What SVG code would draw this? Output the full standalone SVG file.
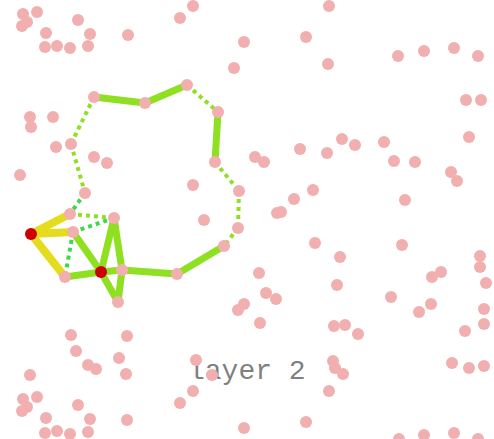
<svg xmlns="http://www.w3.org/2000/svg" width="494" height="439" viewBox="0 0 494 439">
<style>
.p{fill:#f1afaf}
.r{fill:#cc0000}
.s{stroke:#8fe021;stroke-width:7;fill:none;stroke-linecap:butt}
.d{stroke:#8fe021;stroke-width:4;fill:none;stroke-dasharray:4 4}
.g{stroke:#3fd84a;stroke-width:4;fill:none;stroke-dasharray:4 4}
.y{stroke:#e4dc1c;stroke-width:8;fill:none}
.t{font-family:"Liberation Mono","DejaVu Sans Mono",monospace;font-size:28px;fill:#808080}
</style>
<rect width="494" height="439" fill="#ffffff"/>
<text class="t" x="188" y="379">layer 2</text>
<g id="connectors">
<line class="d" x1="94" y1="97" x2="71" y2="144"/>
<line class="d" x1="71" y1="144" x2="85" y2="193"/>
<line class="d" x1="187" y1="85" x2="218" y2="112"/>
<line class="d" x1="215" y1="162" x2="239" y2="191"/>
<line class="d" x1="239" y1="191" x2="238" y2="228"/>
<line class="d" x1="238" y1="228" x2="224" y2="246"/>
<line class="g" x1="85" y1="193" x2="70" y2="214"/>
<line class="d" x1="70" y1="214" x2="114" y2="218"/>
<line class="g" x1="73" y1="232" x2="114" y2="218"/>
<line class="g" x1="73" y1="232" x2="65" y2="277"/>
<line class="s" x1="94" y1="97" x2="145" y2="103"/>
<line class="s" x1="145" y1="103" x2="187" y2="85"/>
<line class="s" x1="218" y1="112" x2="215" y2="162"/>
<line class="s" x1="224" y1="246" x2="177" y2="274"/>
<line class="s" x1="177" y1="274" x2="122" y2="270"/>
<line class="s" x1="122" y1="270" x2="101" y2="272"/>
<line class="s" x1="101" y1="272" x2="65" y2="277"/>
<line class="s" x1="73" y1="232" x2="101" y2="272"/>
<line class="s" x1="114" y1="218" x2="101" y2="272"/>
<line class="s" x1="114" y1="218" x2="122" y2="270"/>
<line class="s" x1="101" y1="272" x2="118" y2="302"/>
<line class="s" x1="122" y1="270" x2="118" y2="302"/>
<line class="y" x1="31" y1="234" x2="70" y2="214"/>
<line class="y" x1="31" y1="234" x2="73" y2="232"/>
<line class="y" x1="31" y1="234" x2="65" y2="277"/>
</g>
<g id="n1"><circle class="p" cx="23" cy="14" r="6"/></g>
<g id="n2"><circle class="p" cx="37" cy="12" r="6"/></g>
<g id="n3"><circle class="p" cx="27" cy="22" r="6"/></g>
<g id="n4"><circle class="p" cx="22" cy="26" r="6"/></g>
<g id="n5"><circle class="p" cx="46" cy="33" r="6"/></g>
<g id="n6"><circle class="p" cx="78" cy="20" r="6"/></g>
<g id="n7"><circle class="p" cx="90" cy="34" r="6"/></g>
<g id="n8"><circle class="p" cx="45" cy="47" r="6"/></g>
<g id="n9"><circle class="p" cx="57" cy="46" r="6"/></g>
<g id="n10"><circle class="p" cx="70" cy="48" r="6"/></g>
<g id="n11"><circle class="p" cx="88" cy="46" r="6"/></g>
<g id="n12"><circle class="p" cx="128" cy="35" r="6"/></g>
<g id="n13"><circle class="p" cx="180" cy="18" r="6"/></g>
<g id="n14"><circle class="p" cx="193" cy="6" r="6"/></g>
<g id="n15"><circle class="p" cx="244" cy="42" r="6"/></g>
<g id="n16"><circle class="p" cx="234" cy="68" r="6"/></g>
<g id="n17"><circle class="p" cx="329" cy="6" r="6"/></g>
<g id="n18"><circle class="p" cx="306" cy="37" r="6"/></g>
<g id="n19"><circle class="p" cx="328" cy="64" r="6"/></g>
<g id="n20"><circle class="p" cx="398" cy="56" r="6"/></g>
<g id="n21"><circle class="p" cx="424" cy="51" r="6"/></g>
<g id="n22"><circle class="p" cx="454" cy="48" r="6"/></g>
<g id="n23"><circle class="p" cx="478" cy="56" r="6"/></g>
<g id="n24"><circle class="p" cx="466" cy="100" r="6"/></g>
<g id="n25"><circle class="p" cx="481" cy="100" r="6"/></g>
<g id="n26"><circle class="p" cx="469" cy="137" r="6"/></g>
<g id="n27"><circle class="p" cx="342" cy="139" r="6"/></g>
<g id="n28"><circle class="p" cx="355" cy="145" r="6"/></g>
<g id="n29"><circle class="p" cx="384" cy="142" r="6"/></g>
<g id="n30"><circle class="p" cx="300" cy="149" r="6"/></g>
<g id="n31"><circle class="p" cx="327" cy="153" r="6"/></g>
<g id="n32"><circle class="p" cx="255" cy="157" r="6"/></g>
<g id="n33"><circle class="p" cx="264" cy="162" r="6"/></g>
<g id="n34"><circle class="p" cx="394" cy="161" r="6"/></g>
<g id="n35"><circle class="p" cx="415" cy="162" r="6"/></g>
<g id="n36"><circle class="p" cx="451" cy="172" r="6"/></g>
<g id="n37"><circle class="p" cx="457" cy="181" r="6"/></g>
<g id="n38"><circle class="p" cx="313" cy="190" r="6"/></g>
<g id="n39"><circle class="p" cx="294" cy="199" r="6"/></g>
<g id="n40"><circle class="p" cx="277" cy="213" r="6"/></g>
<g id="n41"><circle class="p" cx="281" cy="212" r="6"/></g>
<g id="n42"><circle class="p" cx="405" cy="200" r="6"/></g>
<g id="n43"><circle class="p" cx="315" cy="243" r="6"/></g>
<g id="n44"><circle class="p" cx="402" cy="245" r="6"/></g>
<g id="n45"><circle class="p" cx="340" cy="257" r="6"/></g>
<g id="n46"><circle class="p" cx="480" cy="256" r="6"/></g>
<g id="n47"><circle class="p" cx="480" cy="267" r="6"/></g>
<g id="n48"><circle class="p" cx="486" cy="283" r="6"/></g>
<g id="n49"><circle class="p" cx="259" cy="273" r="6"/></g>
<g id="n50"><circle class="p" cx="337" cy="285" r="6"/></g>
<g id="n51"><circle class="p" cx="432" cy="277" r="6"/></g>
<g id="n52"><circle class="p" cx="441" cy="272" r="6"/></g>
<g id="n53"><circle class="p" cx="266" cy="293" r="6"/></g>
<g id="n54"><circle class="p" cx="276" cy="299" r="6"/></g>
<g id="n55"><circle class="p" cx="391" cy="297" r="6"/></g>
<g id="n56"><circle class="p" cx="244" cy="304" r="6"/></g>
<g id="n57"><circle class="p" cx="238" cy="310" r="6"/></g>
<g id="n58"><circle class="p" cx="260" cy="323" r="6"/></g>
<g id="n59"><circle class="p" cx="431" cy="304" r="6"/></g>
<g id="n60"><circle class="p" cx="419" cy="312" r="6"/></g>
<g id="n61"><circle class="p" cx="484" cy="309" r="6"/></g>
<g id="n62"><circle class="p" cx="484" cy="324" r="6"/></g>
<g id="n63"><circle class="p" cx="465" cy="331" r="6"/></g>
<g id="n64"><circle class="p" cx="334" cy="326" r="6"/></g>
<g id="n65"><circle class="p" cx="345" cy="325" r="6"/></g>
<g id="n66"><circle class="p" cx="358" cy="334" r="6"/></g>
<g id="n67"><circle class="p" cx="333" cy="361" r="6"/></g>
<g id="n68"><circle class="p" cx="335" cy="368" r="6"/></g>
<g id="n69"><circle class="p" cx="343" cy="374" r="6"/></g>
<g id="n70"><circle class="p" cx="329" cy="391" r="6"/></g>
<g id="n71"><circle class="p" cx="452" cy="363" r="6"/></g>
<g id="n72"><circle class="p" cx="469" cy="368" r="6"/></g>
<g id="n73"><circle class="p" cx="484" cy="366" r="6"/></g>
<g id="n74"><circle class="p" cx="212" cy="375" r="6"/></g>
<g id="n75"><circle class="p" cx="196" cy="360" r="6"/></g>
<g id="n76"><circle class="p" cx="306" cy="422" r="6"/></g>
<g id="n77"><circle class="p" cx="244" cy="428" r="6"/></g>
<g id="n78"><circle class="p" cx="399" cy="439" r="6"/></g>
<g id="n79"><circle class="p" cx="424" cy="435" r="6"/></g>
<g id="n80"><circle class="p" cx="454" cy="433" r="6"/></g>
<g id="n81"><circle class="p" cx="478" cy="439" r="6"/></g>
<g id="n82"><circle class="p" cx="30" cy="117" r="6"/></g>
<g id="n83"><circle class="p" cx="31" cy="127" r="6"/></g>
<g id="n84"><circle class="p" cx="53" cy="117" r="6"/></g>
<g id="n85"><circle class="p" cx="56" cy="147" r="6"/></g>
<g id="n86"><circle class="p" cx="94" cy="157" r="6"/></g>
<g id="n87"><circle class="p" cx="107" cy="163" r="6"/></g>
<g id="n88"><circle class="p" cx="20" cy="175" r="6"/></g>
<g id="n89"><circle class="p" cx="193" cy="185" r="6"/></g>
<g id="n90"><circle class="p" cx="204" cy="220" r="6"/></g>
<g id="n91"><circle class="p" cx="-6" cy="283" r="6"/></g>
<g id="n92"><circle class="p" cx="71" cy="335" r="6"/></g>
<g id="n93"><circle class="p" cx="127" cy="336" r="6"/></g>
<g id="n94"><circle class="p" cx="76" cy="351" r="6"/></g>
<g id="n95"><circle class="p" cx="88" cy="365" r="6"/></g>
<g id="n96"><circle class="p" cx="96" cy="369" r="6"/></g>
<g id="n97"><circle class="p" cx="119" cy="358" r="6"/></g>
<g id="n98"><circle class="p" cx="126" cy="374" r="6"/></g>
<g id="n99"><circle class="p" cx="30" cy="375" r="6"/></g>
<g id="n100"><circle class="p" cx="23" cy="399" r="6"/></g>
<g id="n101"><circle class="p" cx="37" cy="397" r="6"/></g>
<g id="n102"><circle class="p" cx="27" cy="407" r="6"/></g>
<g id="n103"><circle class="p" cx="22" cy="411" r="6"/></g>
<g id="n104"><circle class="p" cx="78" cy="405" r="6"/></g>
<g id="n105"><circle class="p" cx="46" cy="418" r="6"/></g>
<g id="n106"><circle class="p" cx="90" cy="419" r="6"/></g>
<g id="n107"><circle class="p" cx="127" cy="420" r="6"/></g>
<g id="n108"><circle class="p" cx="45" cy="433" r="6"/></g>
<g id="n109"><circle class="p" cx="57" cy="431" r="6"/></g>
<g id="n110"><circle class="p" cx="70" cy="434" r="6"/></g>
<g id="n111"><circle class="p" cx="88" cy="432" r="6"/></g>
<g id="n112"><circle class="p" cx="193" cy="391" r="6"/></g>
<g id="n113"><circle class="p" cx="180" cy="403" r="6"/></g>
<g id="n114"><circle class="p" cx="94" cy="97" r="6"/></g>
<g id="n115"><circle class="p" cx="145" cy="103" r="6"/></g>
<g id="n116"><circle class="p" cx="187" cy="85" r="6"/></g>
<g id="n117"><circle class="p" cx="218" cy="112" r="6"/></g>
<g id="n118"><circle class="p" cx="71" cy="144" r="6"/></g>
<g id="n119"><circle class="p" cx="85" cy="193" r="6"/></g>
<g id="n120"><circle class="p" cx="215" cy="162" r="6"/></g>
<g id="n121"><circle class="p" cx="239" cy="191" r="6"/></g>
<g id="n122"><circle class="p" cx="238" cy="228" r="6"/></g>
<g id="n123"><circle class="p" cx="224" cy="246" r="6"/></g>
<g id="n124"><circle class="p" cx="177" cy="274" r="6"/></g>
<g id="n125"><circle class="p" cx="122" cy="270" r="6"/></g>
<g id="n126"><circle class="p" cx="118" cy="302" r="6"/></g>
<g id="n127"><circle class="p" cx="114" cy="218" r="6"/></g>
<g id="n128"><circle class="p" cx="70" cy="214" r="6"/></g>
<g id="n129"><circle class="p" cx="73" cy="232" r="6"/></g>
<g id="n130"><circle class="p" cx="65" cy="277" r="6"/></g>
<g id="n131"><circle class="r" cx="31" cy="234" r="6"/></g>
<g id="n132"><circle class="r" cx="101" cy="272" r="6"/></g>
</svg>
